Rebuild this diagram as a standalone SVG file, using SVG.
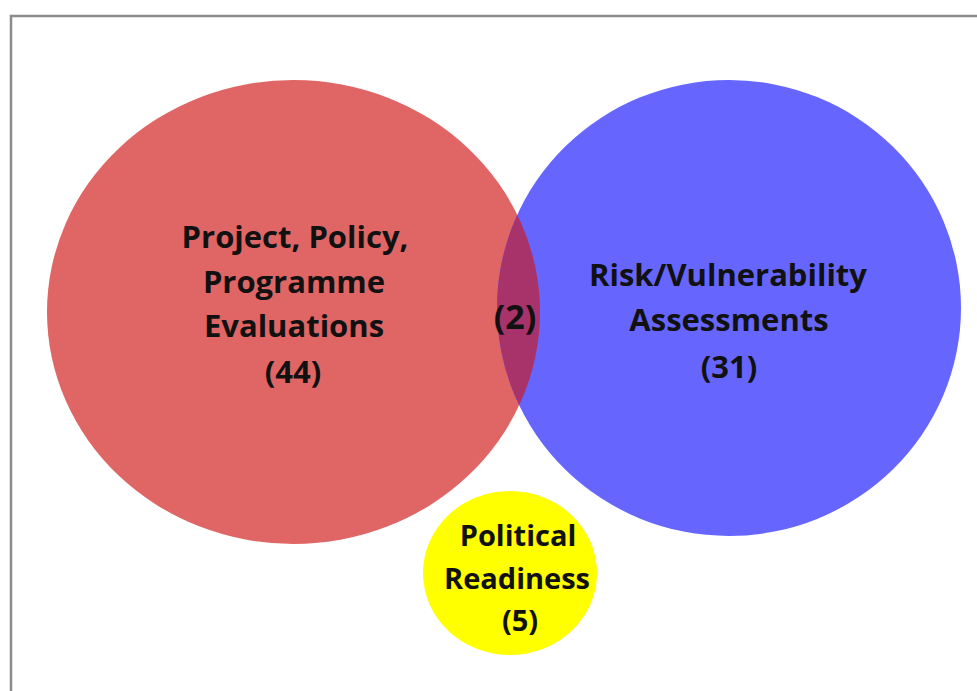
<svg xmlns="http://www.w3.org/2000/svg" width="977" height="691" viewBox="0 0 977 691">
<style>
  .lbl { font-family: "Open Sans", "Liberation Sans", sans-serif; font-weight: 700; font-size: 31px; fill: #111111; text-anchor: middle; }
  .sm { font-size: 29px; }
  .lg { font-size: 34px; }
</style>
<defs>
  <clipPath id="clipRed">
    <ellipse cx="293.5" cy="312" rx="246.5" ry="232"/>
  </clipPath>
</defs>
<rect x="0" y="0" width="977" height="691" fill="#ffffff"/>
<rect id="frame" x="11" y="16" width="1000" height="700" fill="none" stroke="#8c8c8c" stroke-width="2.5"/>
<g id="evaluations">
  <ellipse cx="293.5" cy="312" rx="246.5" ry="232" fill="#E06666"/>
</g>
<g id="risk">
  <ellipse cx="729" cy="308" rx="232" ry="228" fill="#6666FF"/>
</g>
<g id="overlap">
  <ellipse cx="729" cy="308" rx="232" ry="228" fill="#A8336B" clip-path="url(#clipRed)"/>
  <text class="lbl lg" x="515" y="329">(2)</text>
</g>
<g id="political">
  <ellipse cx="510" cy="573" rx="87" ry="82" fill="#FFFF00"/>
  <text class="lbl sm" x="518" y="546">Political</text>
  <text class="lbl sm" x="517" y="589">Readiness</text>
  <text class="lbl sm" x="520" y="631">(5)</text>
</g>
<g id="evaluations-label">
  <text class="lbl" x="295" y="248">Project, Policy,</text>
  <text class="lbl" x="294" y="293">Programme</text>
  <text class="lbl" x="294" y="337">Evaluations</text>
  <text class="lbl" x="293" y="383">(44)</text>
</g>
<g id="risk-label">
  <text class="lbl" x="728" y="286">Risk/Vulnerability</text>
  <text class="lbl" x="729" y="331">Assessments</text>
  <text class="lbl" x="729" y="378">(31)</text>
</g>
<g id="connectors"></g>
</svg>
